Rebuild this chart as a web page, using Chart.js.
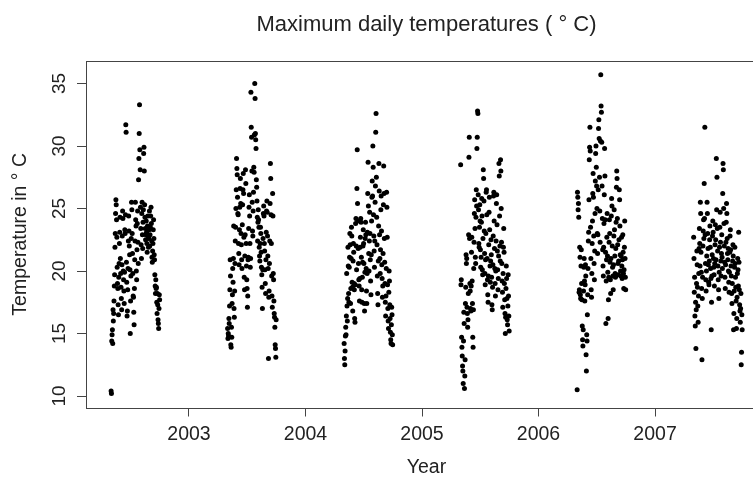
<!DOCTYPE html>
<html>
<head>
<meta charset="utf-8">
<script src="https://cdn.jsdelivr.net/npm/chart.js@4/dist/chart.umd.min.js"></script>
<style>
  html, body { margin: 0; padding: 0; background: #fff; overflow: hidden; }
  #wrap { width: 775px; height: 477px; }
</style>
</head>
<body>
<div id="wrap"><canvas id="myChart" width="775" height="477"></canvas></div>
<script>
// daily maximum temperatures, 1 May .. 30 Sep of each year
const years = [2002, 2003, 2004, 2005, 2006, 2007];
const firstDay = 121; // day of year of 1 May

const temps2002 = [10.4, 10.2, 14.4, 14.9, 15.3, 14.2, 16.9, 16.0, 16.6, 17.6, 18.8,
  19.7, 21.9, 23.0, 24.6, 25.7, 25.3, 24.1, 22.7, 20.3, 19.0,
  18.6, 17.3, 16.5, 19.5, 20.6, 22.2, 23.1, 24.3, 21.0, 19.8,
  18.7, 17.8, 16.9, 20.5, 22.8, 24.8, 24.2, 20.0, 19.3, 18.4,
  17.4, 19.9, 23.3, 23.0, 24.5, 31.7, 31.1, 20.7, 19.1, 16.4,
  16.8, 18.5, 20.2, 22.4, 24.4, 23.2, 22.0, 21.3, 20.1, 15.0,
  17.6, 19.6, 22.6, 25.5, 24.9, 23.0, 21.4, 19.8, 18.0, 17.9,
  16.7, 15.7, 18.6, 20.9, 22.4, 25.5, 24.1, 23.6, 20.0, 19.3,
  21.7, 23.8, 24.8, 22.3, 20.6, 27.3, 29.0, 31.0, 33.3, 29.7,
  28.1, 25.1, 23.4, 22.1, 21.0, 24.6, 25.5, 22.9, 21.8, 23.9,
  24.9, 29.4, 29.9, 28.0, 25.3, 24.3, 23.4, 22.5, 22.9, 24.0,
  23.1, 22.2, 21.5, 23.6, 24.4, 22.8, 21.9, 22.6, 23.3, 24.8,
  22.0, 22.9, 23.5, 24.4, 25.1, 23.8, 22.4, 21.1, 20.7, 21.6,
  22.2, 23.3, 24.1, 22.6, 21.3, 20.9, 19.7, 18.8, 18.2, 19.3,
  18.6, 18.7, 17.5, 16.6, 18.2, 17.3, 16.1, 15.8, 15.4, 17.0, 18.1, 17.7];

const temps2003 = [15.4, 14.6, 15.0, 14.8, 16.2, 15.8, 17.2, 18.5, 20.9, 19.6, 14.1,
  13.9, 15.5, 14.7, 17.4, 18.1, 20.2, 19.1, 21.0, 23.6, 17.0,
  16.3, 18.4, 20.6, 22.4, 23.5, 25.0, 26.5, 29.0, 28.2, 27.7,
  25.9, 24.6, 24.5, 22.2, 21.4, 20.5, 23.3, 25.1, 26.6, 27.4,
  25.4, 23.0, 22.1, 20.9, 20.2, 23.7, 25.3, 26.5, 27.8, 26.2,
  22.7, 19.5, 18.5, 21.2, 22.9, 28.1, 27.0, 22.2, 20.4, 19.3,
  18.6, 17.1, 18.0, 20.9, 21.1, 23.4, 25.1, 26.1, 24.4, 22.2,
  20.3, 21.0, 34.3, 31.5, 30.7, 28.0, 25.5, 23.2, 22.8, 24.8,
  26.3, 28.3, 27.9, 30.9, 35.0, 33.8, 31.0, 30.5, 29.8, 27.3,
  26.7, 25.6, 24.3, 22.4, 23.9, 24.9, 24.1, 23.5, 21.9, 21.2,
  20.8, 22.2, 23.5, 23.0, 21.5, 20.3, 19.7, 18.7, 17.0, 20.1,
  22.6, 24.6, 25.2, 24.4, 22.2, 21.6, 20.1, 19.0, 18.2, 20.9,
  23.1, 24.8, 25.6, 24.7, 22.8, 21.2, 20.2, 13.0, 17.9, 18.4,
  20.6, 22.4, 25.4, 28.6, 27.4, 24.5, 22.2, 19.6, 18.0, 17.1,
  26.2, 24.4, 19.8, 19.3, 17.6, 16.6, 16.3, 15.5, 14.1, 13.8, 13.1, 16.1];

const temps2004 = [14.2, 13.0, 12.5, 13.6, 14.8, 15.5, 14.9, 16.4, 19.8, 17.2, 16.0,
  17.8, 21.9, 20.4, 18.2, 17.5, 20.3, 21.1, 23.0, 22.1, 17.4,
  18.6, 21.0, 23.5, 22.8, 19.1, 18.7, 16.8, 20.8, 22.2, 21.5,
  19.0, 18.5, 16.2, 15.9, 18.9, 23.8, 24.2, 22.0, 20.1, 26.6,
  29.7, 25.4, 24.0, 21.8, 20.6, 19.3, 18.8, 17.6, 19.4, 21.9,
  22.7, 24.2, 23.9, 21.1, 18.5, 17.5, 19.5, 20.7, 22.0, 23.3,
  22.2, 20.6, 17.4, 16.8, 19.9, 22.6, 23.9, 22.9, 20.2, 18.4,
  17.4, 19.8, 23.1, 26.2, 28.7, 25.2, 21.4, 20.0, 22.4, 24.7,
  23.0, 20.9, 19.2, 18.1, 21.3, 24.0, 25.9, 27.2, 26.0, 30.0,
  28.3, 24.5, 22.8, 21.6, 20.3, 22.4, 25.5, 26.8, 31.1, 32.6,
  27.5, 24.3, 22.1, 19.6, 18.2, 17.3, 20.8, 23.6, 28.6, 26.4,
  22.9, 21.0, 19.8, 21.7, 24.9, 26.0, 23.2, 20.5, 19.4, 17.9,
  18.8, 21.4, 25.3, 28.4, 26.2, 22.6, 20.7, 19.0, 17.5, 16.4,
  18.0, 20.2, 26.3, 25.1, 22.7, 18.9, 17.0, 16.0, 15.4, 18.3,
  20.0, 19.2, 17.3, 16.2, 15.1, 14.5, 14.2, 15.7, 17.1, 16.5, 14.9, 14.1];

const temps2005 = [28.5, 18.9, 19.3, 14.7, 13.9, 13.2, 12.4, 12.0, 11.0, 14.4, 16.7,
  15.8, 10.6, 11.6, 12.9, 17.4, 18.7, 21.3, 20.6, 21.0, 17.1,
  16.6, 15.5, 16.1, 18.2, 22.9, 29.1, 30.7, 22.6, 19.0, 18.4,
  17.0, 16.8, 18.8, 21.5, 22.7, 19.2, 17.4, 14.7, 13.9, 16.9,
  20.2, 22.3, 24.6, 25.7, 23.4, 21.1, 20.6, 24.3, 26.5, 25.2,
  29.8, 30.7, 32.8, 32.6, 26.1, 24.9, 22.2, 21.9, 23.5, 25.3,
  24.0, 21.7, 20.3, 21.1, 23.9, 25.8, 24.4, 20.1, 19.7, 22.6,
  28.1, 27.4, 25.6, 23.2, 21.4, 19.8, 18.9, 20.9, 23.0, 26.3,
  26.5, 24.5, 21.0, 19.3, 18.1, 17.5, 19.6, 22.1, 24.7, 25.9,
  23.3, 20.4, 19.1, 20.8, 22.5, 21.3, 19.5, 17.3, 16.9, 18.7,
  20.5, 22.8, 26.0, 26.3, 24.0, 21.8, 20.2, 19.0, 18.0, 20.0,
  22.4, 25.4, 26.1, 23.7, 21.6, 20.1, 18.5, 19.4, 21.2, 28.6,
  27.6, 24.4, 22.0, 20.8, 28.9, 28.0, 25.0, 22.3, 20.6, 19.2,
  18.3, 17.1, 19.8, 21.9, 23.4, 21.5, 19.0, 17.7, 16.6, 15.0,
  16.3, 18.6, 20.4, 19.4, 17.8, 16.1, 15.7, 17.2, 19.7, 18.0, 16.4, 15.2];

const temps2006 = [10.5, 26.3, 25.9, 24.9, 25.4, 24.3, 18.3, 18.5, 21.9, 21.1, 18.1,
  17.8, 20.4, 21.7, 19.0, 17.7, 15.6, 14.5, 14.0, 15.3, 18.4,
  20.3, 21.0, 19.2, 17.6, 18.9, 20.5, 19.6, 13.3, 12.0, 14.9,
  14.4, 16.5, 18.1, 20.2, 22.4, 23.1, 25.7, 28.9, 29.9, 31.5,
  29.6, 23.5, 21.0, 18.5, 17.9, 19.8, 22.2, 24.0, 26.2, 27.8,
  25.9, 22.8, 20.6, 19.3, 21.6, 24.6, 27.2, 29.4, 30.0, 28.3,
  26.8, 25.0, 23.0, 21.4, 22.9, 26.5, 31.4, 32.1, 30.6, 27.5,
  24.8, 22.3, 30.4, 35.7, 33.2, 32.7, 30.3, 26.8, 24.2, 21.7,
  20.4, 19.6, 21.9, 23.8, 26.1, 29.8, 27.6, 24.1, 21.5, 15.8,
  19.2, 20.9, 22.7, 24.6, 21.2, 19.9, 16.2, 17.7, 19.5, 22.3,
  24.1, 23.0, 20.7, 19.3, 18.2, 21.0, 24.4, 25.8, 25.2, 22.0,
  20.3, 19.6, 18.5, 20.5, 22.8, 24.9, 23.3, 21.2, 19.8, 19.5,
  21.8, 23.9, 26.7, 28.0, 27.4, 24.2, 22.1, 20.6, 19.7, 20.8,
  22.5, 26.5, 25.7, 23.6, 21.3, 20.0, 19.6, 21.2, 22.7, 20.4,
  19.4, 20.9, 22.9, 21.5, 19.8, 18.6, 20.1, 21.9, 24.0, 21.0, 19.5, 18.5];

const temps2007 = [22.7, 21.0, 18.3, 19.5, 16.4, 15.6, 17.5, 13.8, 16.9, 19.0, 21.6,
  20.5, 18.7, 17.2, 15.9, 18.0, 19.8, 21.8, 23.4, 22.2, 20.4,
  25.5, 24.6, 21.5, 19.9, 18.6, 12.9, 17.8, 19.5, 22.0, 23.2,
  24.1, 22.6, 27.0, 24.2, 31.5, 22.9, 20.6, 19.3, 18.4, 20.0,
  21.2, 25.5, 24.6, 23.0, 21.8, 20.5, 19.1, 18.9, 20.8, 22.5,
  23.6, 21.9, 20.2, 19.4, 15.3, 17.5, 19.6, 21.3, 22.8, 24.0,
  23.1, 21.0, 20.3, 19.7, 18.8, 20.6, 22.1, 23.7, 22.5, 20.9,
  29.0, 24.9, 27.5, 23.4, 21.6, 20.4, 19.3, 18.5, 17.8, 19.9,
  21.9, 23.5, 24.7, 22.3, 20.8, 19.6, 21.4, 22.9, 21.1, 20.2,
  26.2, 28.6, 28.1, 25.0, 23.8, 22.0, 20.7, 19.5, 18.6, 20.5,
  22.3, 23.9, 25.4, 24.6, 22.6, 21.4, 20.9, 21.8, 20.0, 19.1,
  18.3, 19.9, 21.5, 22.8, 23.3, 21.7, 20.4, 19.6, 18.2, 17.4,
  19.0, 20.8, 22.1, 21.2, 15.3, 16.6, 18.4, 20.3, 21.9, 20.6,
  19.5, 18.7, 17.6, 15.4, 16.2, 17.9, 19.8, 21.0, 20.1, 18.8,
  23.1, 20.7, 18.5, 17.3, 16.8, 15.9, 17.0, 18.2, 12.5, 13.5, 16.5, 15.3];

const allTemps = [temps2002, temps2003, temps2004, temps2005, temps2006, temps2007];
const xTicks = [2003, 2004, 2005, 2006, 2007];
const yTicks = [10, 15, 20, 25, 30, 35];

const points = [];
years.forEach((yr, k) => {
    allTemps[k].forEach((t, i) => {
        points.push({ x: yr + (firstDay + i) / 365, y: t });
    });
});

const FONT = '"Liberation Sans", Arial, sans-serif';
const TEXT = '#222';
const AXIS = '#444';

// R-like frame, rotated y labels and titles
const rFrame = {
    id: 'rFrame',
    afterDraw(chart) {
        const ctx = chart.ctx;
        const ca = chart.chartArea;
        const ys = chart.scales.y;
        ctx.save();
        ctx.strokeStyle = AXIS;
        ctx.lineWidth = 1;
        ctx.strokeRect(Math.round(ca.left) + 0.5, Math.round(ca.top) + 0.5,
            Math.round(ca.right - ca.left), Math.round(ca.bottom - ca.top));

        ctx.fillStyle = TEXT;
        ctx.textAlign = 'center';
        ctx.textBaseline = 'middle';
        ctx.font = '19px ' + FONT;
        yTicks.forEach(v => {
            const py = ys.getPixelForValue(v);
            ctx.save();
            ctx.translate(60, py);
            ctx.rotate(-Math.PI / 2);
            ctx.fillText(String(v), 0, 0);
            ctx.restore();
        });

        const cx = (ca.left + ca.right) / 2;
        ctx.font = '19.5px ' + FONT;
        ctx.fillText('Year', cx, 468);

        ctx.save();
        ctx.translate(21, (ca.top + ca.bottom) / 2);
        ctx.rotate(-Math.PI / 2);
        ctx.fillText('Temperature in \u00B0 C', 0, 0);
        ctx.restore();

        ctx.font = '22px ' + FONT;
        ctx.fillText('Maximum daily temperatures ( \u00B0 C)', cx, 25);
        ctx.restore();
    }
};

const ctx = document.getElementById('myChart').getContext('2d');
new Chart(ctx, {
    type: 'scatter',
    data: {
        datasets: [{
            data: points,
            pointRadius: 2.5,
            pointBackgroundColor: '#000',
            pointBorderWidth: 0,
            pointHoverRadius: 2.5
        }]
    },
    options: {
        responsive: false,
        animation: false,
        layout: { padding: { top: 61, right: 8, left: 0, bottom: 0 } },
        plugins: { legend: { display: false }, tooltip: { enabled: false } },
        scales: {
            x: {
                type: 'linear',
                min: 2002.116,
                max: 2007.961,
                afterBuildTicks: s => { s.ticks = xTicks.map(v => ({ value: v })); },
                afterFit: s => { s.height = 69.5; },
                border: { display: false },
                grid: { drawOnChartArea: false, drawTicks: true, tickLength: 9, color: AXIS },
                ticks: {
                    autoSkip: false, maxRotation: 0, padding: 6,
                    color: TEXT, font: { family: FONT, size: 19.5 },
                    callback: v => String(v)
                }
            },
            y: {
                type: 'linear',
                min: 9.08,
                max: 36.8,
                afterBuildTicks: s => { s.ticks = yTicks.map(v => ({ value: v })); },
                afterFit: s => { s.width = 86; },
                border: { display: false },
                grid: { drawOnChartArea: false, drawTicks: true, tickLength: 9, color: AXIS },
                ticks: { color: 'rgba(0,0,0,0)', font: { family: FONT, size: 19 } }
            }
        }
    },
    plugins: [rFrame]
});
</script>
</body>
</html>
